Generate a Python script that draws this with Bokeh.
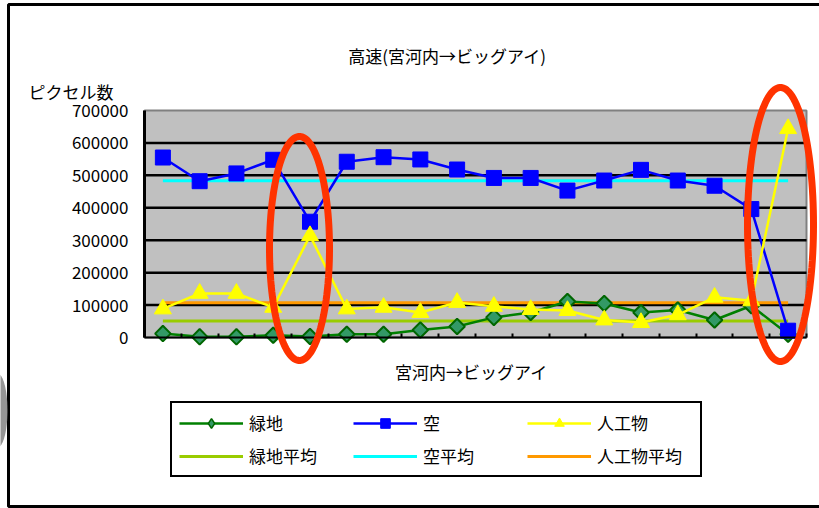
import numpy as np
from bokeh.plotting import figure
from bokeh.models import (Range1d, FixedTicker, Label, Legend, LegendItem,
                          PolyAnnotation, BasicTickFormatter)
from bokeh.embed import file_html
from bokeh.resources import INLINE

# ---------------- data ----------------
points = [1, 2, 3, 4, 5, 6, 7, 8, 9, 10, 11, 12, 13, 14, 15, 16, 17, 18]
greenery = [12000, 2000, 2000, 7000, 3000, 10000, 10000, 23000, 34000,
            62000, 77000, 111000, 105000, 77000, 85000, 54000, 98000, 10000]
sky = [555000, 482000, 506000, 548000, 357000, 542000, 556000, 549000, 518000,
       492000, 492000, 453000, 484000, 517000, 484000, 468000, 396000, 21000]
artificial = [88000, 136000, 136000, 93000, 314000, 88000, 93000, 77000, 108000,
              96000, 86000, 83000, 54000, 46000, 70000, 124000, 113000, 644000]
greenery_avg = 51000
sky_avg = 483000
artificial_avg = 107000

y_ticks = [0, 100000, 200000, 300000, 400000, 500000, 600000, 700000]
title_text = "高速(宮河内→ビッグアイ)"
x_title = "宮河内→ビッグアイ"
y_title = "ピクセル数"
series_names = ["緑地", "空", "人工物", "緑地平均", "空平均", "人工物平均"]

# ---------------- layout ----------------
W, H = 819, 508
FL, FR, FT, FB = 144, 806, 110, 337       # plot-area box in pixels
XMIN, XMAX = 0.5, len(points) + 0.5
YMIN, YMAX = 0, 700000
FONT = "Noto Sans CJK JP"


def dx(px):
    return XMIN + (px - FL) / (FR - FL) * (XMAX - XMIN)


def dy(py):
    return YMIN + (FB - py) / (FB - FT) * (YMAX - YMIN)


p = figure(width=W, height=H, x_range=Range1d(dx(0), dx(W)), y_range=Range1d(dy(H), dy(0)),
           output_backend="svg", toolbar_location=None, title=None, min_border=0)
p.background_fill_color = "white"
p.border_fill_color = "white"
p.outline_line_color = None
p.xgrid.visible = False
p.ygrid.visible = False

# axes (library axes pinned to the plot-area edges)
p.yaxis.fixed_location = XMIN
p.yaxis.bounds = (YMIN, YMAX)
p.yaxis.ticker = FixedTicker(ticks=y_ticks)
p.yaxis.formatter = BasicTickFormatter(use_scientific=False)
p.yaxis.axis_line_color = "black"
p.yaxis.axis_line_width = 3
p.yaxis.major_tick_out = 0
p.yaxis.major_tick_in = 0
p.yaxis.minor_tick_out = 0
p.yaxis.minor_tick_in = 0
p.yaxis.major_label_standoff = 16
p.yaxis.major_label_text_font = FONT
p.yaxis.major_label_text_font_size = "17px"
p.yaxis.major_label_text_color = "black"

p.xaxis.fixed_location = YMIN
p.xaxis.bounds = (XMIN, XMAX)
p.xaxis.ticker = FixedTicker(ticks=[i + 0.5 for i in range(len(points) + 1)])
p.xaxis.axis_line_color = "black"
p.xaxis.axis_line_width = 2
p.xaxis.major_tick_in = 4
p.xaxis.major_tick_out = 0
p.xaxis.major_tick_line_width = 2
p.xaxis.minor_tick_in = 0
p.xaxis.minor_tick_out = 0
p.xaxis.major_label_text_color = None

# plot area background and horizontal grid lines
p.quad(left=XMIN, right=XMAX, bottom=YMIN, top=YMAX, fill_color="#c0c0c0",
       line_color="#808080", line_width=2)
p.segment(x0=[XMIN] * len(y_ticks[1:-1]), x1=[XMAX] * len(y_ticks[1:-1]),
          y0=y_ticks[1:-1], y1=y_ticks[1:-1], line_color="black", line_width=2.5)

# averages (drawn first, under the series)
ga = p.line([points[0], points[-1]], [greenery_avg, greenery_avg], line_color="#99cc00", line_width=3)
sa = p.line([points[0], points[-1]], [sky_avg, sky_avg], line_color="#00ffff", line_width=3)
aa = p.line([points[0], points[-1]], [artificial_avg, artificial_avg], line_color="#ff9900", line_width=3)

# series
gl = p.line(points, greenery, line_color="#008000", line_width=2.5)
gm = p.scatter(points, greenery, marker="square", angle=np.pi / 4, size=11,
               fill_color="#339966", line_color="#006600", line_width=2)
# same series as an (invisible) diamond glyph, used only for the legend swatch
gm_key = p.scatter(points, greenery, marker="diamond", size=14,
                   fill_color="#339966", line_color="#006600", line_width=1.5, visible=False)
sl = p.line(points, sky, line_color="#0000ff", line_width=2.5)
sm = p.scatter(points, sky, marker="square", size=15, fill_color="#0000ff", line_color="#0000ff")
al = p.line(points, artificial, line_color="#ffff00", line_width=2.5)
am = p.scatter(points, artificial, marker="triangle", size=17, fill_color="#ffff00", line_color="#ffff00")

legend = Legend(items=[
    LegendItem(label=series_names[0], renderers=[gl, gm_key]),
    LegendItem(label=series_names[1], renderers=[sl, sm]),
    LegendItem(label=series_names[2], renderers=[al, am]),
    LegendItem(label=series_names[3], renderers=[ga]),
    LegendItem(label=series_names[4], renderers=[sa]),
    LegendItem(label=series_names[5], renderers=[aa]),
], location=(170, H - 477), orientation="horizontal", ncols=3)
legend.click_policy = "none"
legend.border_line_color = "black"
legend.border_line_alpha = 1
legend.border_line_width = 2.5
legend.background_fill_color = "white"
legend.background_fill_alpha = 1
legend.padding = 7
legend.spacing = 8
legend.margin = 0
legend.glyph_width = 64
legend.glyph_height = 24
legend.label_width = 96
legend.label_height = 24
legend.label_standoff = 6
legend.label_text_font = FONT
legend.label_text_font_size = "17px"
legend.label_text_color = "black"
p.add_layout(legend, "center")

# texts
p.add_layout(Label(x=dx(447), y=dy(55), text=title_text, text_align="center", text_baseline="middle",
                   text_font=FONT, text_font_size="17px", text_color="black"))
p.add_layout(Label(x=dx(28), y=dy(91), text=y_title, text_align="left", text_baseline="middle",
                   text_font=FONT, text_font_size="17px", text_color="black"))
p.add_layout(Label(x=dx(471), y=dy(371), text=x_title, text_align="center", text_baseline="middle",
                   text_font=FONT, text_font_size="17px", text_color="black"))


def ellipse(cx, cy, rx, ry, n=120):
    t = np.linspace(0, 2 * np.pi, n)
    return ([dx(cx + rx * np.cos(a)) for a in t], [dy(cy + ry * np.sin(a)) for a in t])


# outer chart frame
p.add_layout(PolyAnnotation(xs=[dx(8), dx(840), dx(840), dx(8)], ys=[dy(4), dy(4), dy(506), dy(506)],
                            fill_color=None, line_color="black", line_alpha=1, line_width=3))
# grey blob at the left edge
bx, by = ellipse(-3, 410, 10, 37)
p.add_layout(PolyAnnotation(xs=bx, ys=by, fill_color="#8a8a8a", fill_alpha=0.9, line_color=None))

# red highlight ovals
for cx, cy, rx, ry in [(299, 248, 30, 112), (780, 224, 33, 137)]:
    ex, ey = ellipse(cx, cy, rx, ry)
    p.add_layout(PolyAnnotation(xs=ex, ys=ey, fill_color=None, line_color="#ff3300",
                                line_alpha=1, line_width=7))

open("out.html", "w").write(file_html(p, INLINE))
